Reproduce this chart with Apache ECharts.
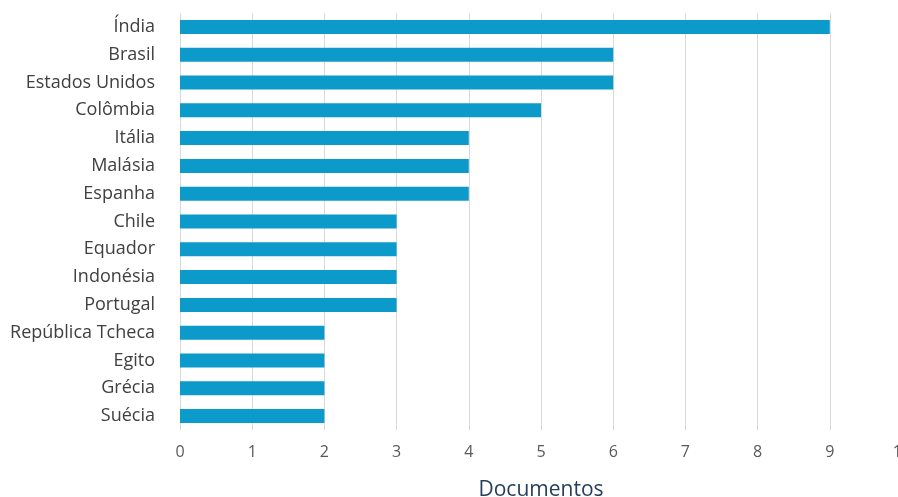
<!DOCTYPE html>
<html>
<head>
<meta charset="utf-8">
<script src="https://cdn.jsdelivr.net/npm/echarts@6/dist/echarts.min.js"></script>
<style>
  html, body { margin: 0; padding: 0; background: #ffffff; }
  #chart { width: 898px; height: 497px; }
</style>
</head>
<body>
<div id="chart"></div>
<script>
// Countries (top to bottom) and number of documents per country
const countries = [
  'Índia', 'Brasil', 'Estados Unidos', 'Colômbia', 'Itália', 'Malásia', 'Espanha',
  'Chile', 'Equador', 'Indonésia', 'Portugal', 'República Tcheca', 'Egito', 'Grécia', 'Suécia'
];
const documents = [9, 6, 6, 5, 4, 4, 4, 3, 3, 3, 3, 2, 2, 2, 2];
const axisTitle = 'Documentos';

const chart = echarts.init(document.getElementById('chart'), null, { renderer: 'canvas' });
chart.setOption({
  animation: false,
  backgroundColor: '#ffffff',
  grid: { left: 180, top: 13, width: 722, height: 417, containLabel: false, outerBoundsMode: 'none' },
  xAxis: {
    type: 'value',
    min: 0,
    max: 10,
    interval: 1,
    name: axisTitle,
    nameLocation: 'middle',
    nameGap: 50,
    nameTextStyle: { fontFamily: 'Open Sans', fontSize: 21, color: '#26405c' },
    axisLine: { show: false },
    axisTick: { show: false },
    axisLabel: { fontFamily: 'Open Sans', fontSize: 16, color: '#595959', margin: 14 },
    splitLine: { show: true, lineStyle: { color: '#d9d9d9', width: 1 } }
  },
  yAxis: {
    type: 'category',
    data: countries,
    inverse: true,
    axisLine: { show: false },
    axisTick: { show: false },
    axisLabel: { fontFamily: 'Open Sans', fontSize: 18, color: '#404040', margin: 25 }
  },
  series: [{
    type: 'bar',
    data: documents,
    barWidth: 14,
    itemStyle: { color: '#0c9acb' }
  }]
});
</script>
</body>
</html>
